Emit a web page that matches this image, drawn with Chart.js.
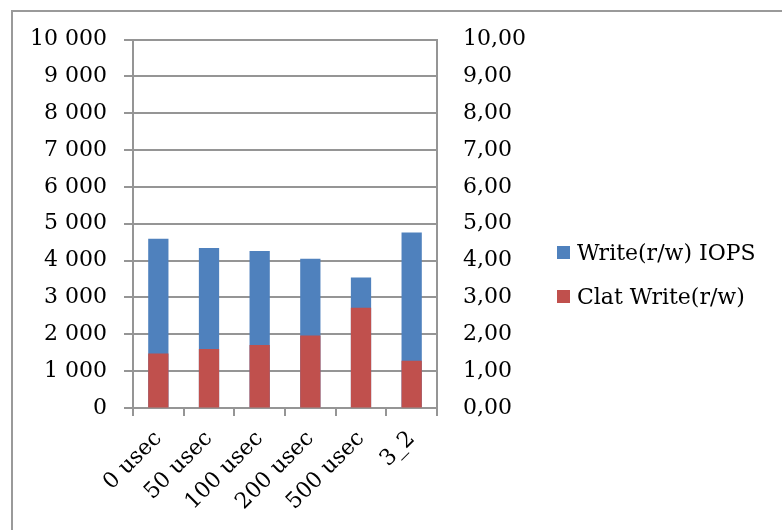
<!DOCTYPE html>
<html>
<head>
<meta charset="utf-8">
<script src="https://cdn.jsdelivr.net/npm/chart.js@4/dist/chart.umd.min.js"></script>
<style>
  html, body { margin: 0; padding: 0; background: #fff; }
  #wrap { position: relative; width: 782px; height: 530px; overflow: hidden; }
  #frame { position: absolute; left: 11px; top: 10px; width: 820px; height: 580px;
           border-left: 2px solid #9a9a9a; border-top: 2px solid #9a9a9a; }
  #chart { position: absolute; left: 0; top: 0; }
  .legend-item { position: absolute; left: 557px; height: 30px; display: flex; align-items: center;
                 font: 22px "DejaVu Serif", serif; color: #000; white-space: nowrap; }
  .legend-item span.sw { display: inline-block; width: 13px; height: 13px; margin-right: 7px; }
</style>
</head>
<body>
<div id="wrap">
  <div id="frame"></div>
  <canvas id="chart" width="782" height="530"></canvas>
  <div id="legend"></div>
</div>
<script>
// Latency settings on the x axis
const categories = ['0 usec', '50 usec', '100 usec', '200 usec', '500 usec', '3_2'];
// Write IOPS (left axis)
const iopsValues = [4590, 4340, 4260, 4050, 3540, 4760];
// Completion latency for writes (right axis)
const clatValues = [1.48, 1.60, 1.71, 1.97, 2.72, 1.28];
const seriesNames = ['Write(r/w) IOPS', 'Clat Write(r/w)'];
const seriesColors = ['#4F81BD', '#C0504D'];

const leftMax = 10000, leftStep = 1000;
const rightMax = 10, rightStep = 1;

const FONT = { family: '"DejaVu Serif", serif', size: 22 };
const GRID = '#959595';

function spaceThousands(v) {
  return String(Math.round(v)).replace(/\B(?=(\d{3})+(?!\d))/g, ' ');
}
function commaDecimals(v) {
  return v.toFixed(2).replace('.', ',');
}

new Chart(document.getElementById('chart'), {
  type: 'bar',
  data: {
    labels: categories,
    datasets: [
      {
        label: seriesNames[0],
        data: iopsValues,
        backgroundColor: seriesColors[0],
        yAxisID: 'y',
        grouped: false,
        order: 1,
        barPercentage: 0.4,
        categoryPercentage: 1
      },
      {
        label: seriesNames[1],
        data: clatValues,
        backgroundColor: seriesColors[1],
        yAxisID: 'y1',
        grouped: false,
        order: 0,
        barPercentage: 0.4,
        categoryPercentage: 1
      }
    ]
  },
  options: {
    responsive: false,
    animation: false,
    layout: { padding: { left: 0, top: 39.5, right: 225, bottom: 12 } },
    plugins: { legend: { display: false }, tooltip: { enabled: false } },
    scales: {
      x: {
        grid: { drawOnChartArea: false, color: GRID, lineWidth: 2, tickLength: 8 },
        border: { color: GRID, width: 2 },
        ticks: { color: '#000', font: FONT, minRotation: 45, maxRotation: 45, autoSkip: false, padding: 10 },
        afterFit(scale) { scale.height = 110; }
      },
      y: {
        position: 'left',
        min: 0, max: leftMax,
        grid: { color: GRID, lineWidth: 2, tickLength: 9 },
        border: { color: GRID, width: 2 },
        ticks: { stepSize: leftStep, color: '#000', font: FONT, padding: 17, callback: spaceThousands },
        afterFit(scale) { scale.width = 133; }
      },
      y1: {
        position: 'right',
        min: 0, max: rightMax,
        grid: { drawOnChartArea: false, drawTicks: false },
        border: { color: GRID, width: 2 },
        ticks: { stepSize: rightStep, color: '#000', font: FONT, padding: 26, callback: commaDecimals },
        afterFit(scale) { scale.width = 120; }
      }
    }
  }
});

// Legend beside the plot
const legend = document.getElementById('legend');
const legendRows = [237, 281];
seriesNames.forEach((name, i) => {
  const item = document.createElement('div');
  item.className = 'legend-item';
  item.style.top = legendRows[i] + 'px';
  const sw = document.createElement('span');
  sw.className = 'sw';
  sw.style.background = seriesColors[i];
  item.appendChild(sw);
  item.appendChild(document.createTextNode(name));
  legend.appendChild(item);
});
</script>
</body>
</html>
